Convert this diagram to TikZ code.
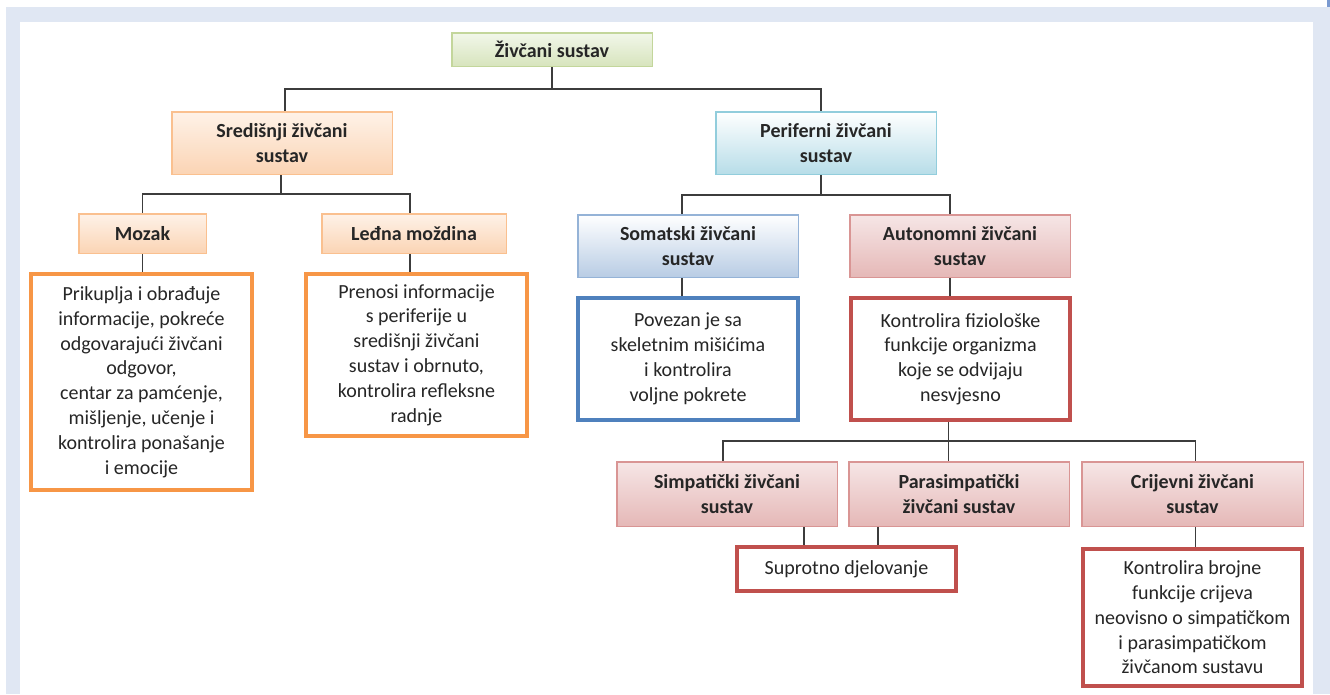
\documentclass[tikz,border=0pt]{standalone}
\usepackage{fontspec}
\setmainfont{Carlito}
\usepackage{tikz}
\definecolor{framebg}{RGB}{224,231,243}
\definecolor{framemark}{RGB}{122,154,208}
\definecolor{linkgray}{RGB}{60,60,60}
\definecolor{greenedge}{RGB}{195,214,155}
\definecolor{greentop}{RGB}{242,247,234}
\definecolor{greenbot}{RGB}{215,228,189}
\definecolor{orangeedge}{RGB}{250,192,143}
\definecolor{orangetop}{RGB}{254,242,232}
\definecolor{orangebot}{RGB}{251,212,180}
\definecolor{cyanedge}{RGB}{146,205,220}
\definecolor{cyanbot}{RGB}{183,221,232}
\definecolor{blueedge}{RGB}{149,179,215}
\definecolor{bluebot}{RGB}{184,204,228}
\definecolor{rededge}{RGB}{217,149,148}
\definecolor{redtop}{RGB}{246,230,230}
\definecolor{redbot}{RGB}{229,184,183}
\definecolor{noteorange}{RGB}{247,150,70}
\definecolor{noteblue}{RGB}{79,129,189}
\definecolor{notered}{RGB}{192,80,77}

\begin{document}
\begin{tikzpicture}[x=1pt, y=-1pt,
  font=\fontsize{20}{24.8}\selectfont,
  every node/.style={align=center, inner sep=0pt, text=black!85},
  head/.style={draw, line width=1.5pt, font=\fontsize{20}{24.8}\selectfont\bfseries},
  greenhead/.style={head, draw=greenedge, top color=greentop, bottom color=greenbot},
  orangehead/.style={head, draw=orangeedge, top color=orangetop, bottom color=orangebot},
  cyanhead/.style={head, draw=cyanedge, top color=white, bottom color=cyanbot},
  bluehead/.style={head, draw=blueedge, top color=white, bottom color=bluebot},
  redhead/.style={head, draw=rededge, top color=redtop, bottom color=redbot},
  note/.style={fill=white, line width=4pt},
  link/.style={draw=linkgray, line width=1.3pt}]
  \useasboundingbox (0,0) rectangle (1330,694);

  % Frame
  \fill[framebg] (6,7) rectangle (1330,694);
  \fill[white] (20,22) rectangle (1313,694);
  \fill[framemark] (1327,0) rectangle (1329.5,7);

  % Top
  \node[greenhead, minimum width=200.5, minimum height=33.5] (zivcani) at (552,49.5) {Živčani sustav};
  \node[orangehead, minimum width=220.5, minimum height=62.5] (sredisnji) at (282,143) {Središnji živčani\\sustav};
  \node[cyanhead, minimum width=220.5, minimum height=62.5] (periferni) at (826,143) {Periferni živčani\\sustav};

  % Central branch
  \node[orangehead, minimum width=127.5, minimum height=39.5] (mozak) at (142.5,233.5) {Mozak};
  \node[orangehead, minimum width=184.5, minimum height=39.5] (ledjna) at (414,233.5) {Leđna moždina};
  \node[note, draw=noteorange, minimum width=221, minimum height=216] (mozakopis) at (141.5,382)
    {Prikuplja i obrađuje\\informacije, pokreće\\odgovarajući živčani\\odgovor,\\centar za pamćenje,\\mišljenje, učenje i\\kontrolira ponašanje\\i emocije};
  \node[note, draw=noteorange, minimum width=221, minimum height=162] (ledjnaopis) at (416.5,355)
    {Prenosi informacije\\s periferije u\\središnji živčani\\sustav i obrnuto,\\kontrolira refleksne\\radnje};

  % Peripheral branch
  \node[bluehead, minimum width=220.5, minimum height=62.5] (somatski) at (688,246) {Somatski živčani\\sustav};
  \node[redhead, minimum width=220.5, minimum height=62.5] (autonomni) at (960,246) {Autonomni živčani\\sustav};
  \node[note, draw=noteblue, minimum width=220, minimum height=122] (somatskiopis) at (688,359)
    {Povezan je sa\\skeletnim mišićima\\i kontrolira\\voljne pokrete};
  \node[note, draw=notered, minimum width=219, minimum height=122] (autonomniopis) at (960.5,359)
    {Kontrolira fiziološke\\funkcije organizma\\koje se odvijaju\\nesvjesno};

  % Autonomic branch
  \node[redhead, minimum width=220.5, minimum height=64.5] (simpaticki) at (727,494) {Simpatički živčani\\sustav};
  \node[redhead, minimum width=220.5, minimum height=64.5] (parasimp) at (959,494) {Parasimpatički\\živčani sustav};
  \node[redhead, minimum width=221.5, minimum height=64.5] (crijevni) at (1192.5,494) {Crijevni živčani\\sustav};
  \node[note, draw=notered, minimum width=219, minimum height=44] (suprotno) at (846.5,569) {Suprotno djelovanje};
  \node[note, draw=notered, minimum width=219, minimum height=137] (crijevniopis) at (1192.5,617.5)
    {Kontrolira brojne\\funkcije crijeva\\neovisno o simpatičkom\\i parasimpatičkom\\živčanom sustavu};

  % Connectors
  \draw[link] (zivcani.south) -- ++(0,22) coordinate (topbar) -| ([xshift=3]sredisnji.north);
  \draw[link] (topbar) -| ([xshift=-5]periferni.north);
  \draw[link] ([xshift=-1]sredisnji.south) -- ++(0,19) coordinate (sredbar) -| (mozak.north);
  \draw[link] (sredbar) -| ([xshift=-4]ledjna.north);
  \draw[link] (mozak.south) -- (mozak.south |- mozakopis.north);
  \draw[link] ([xshift=-4]ledjna.south) -- ([xshift=-4]ledjna.south |- ledjnaopis.north);
  \draw[link] ([xshift=-5]periferni.south) -- ++(0,20) coordinate (peribar) -| ([xshift=-6]somatski.north);
  \draw[link] (peribar) -| ([xshift=-10]autonomni.north);
  \draw[link] ([xshift=-6]somatski.south) -- ([xshift=-6]somatski.south |- somatskiopis.north);
  \draw[link] ([xshift=-10]autonomni.south) -- ([xshift=-10]autonomni.south |- autonomniopis.north);
  \draw[link] ([xshift=-12]autonomniopis.south) -- ++(0,19) coordinate (autobar) -| ([xshift=-4]simpaticki.north);
  \draw[link] (autobar) -| ([xshift=3]crijevni.north);
  \draw[link] (autobar) -- (autobar |- parasimp.north);
  \draw[link] ([xshift=-34]simpaticki.south east) -- ([xshift=-34]simpaticki.south east |- suprotno.north);
  \draw[link] ([xshift=30]parasimp.south west) -- ([xshift=30]parasimp.south west |- suprotno.north);
  \draw[link] ([xshift=3]crijevni.south) -- ([xshift=3]crijevni.south |- crijevniopis.north);
\end{tikzpicture}
\end{document}
